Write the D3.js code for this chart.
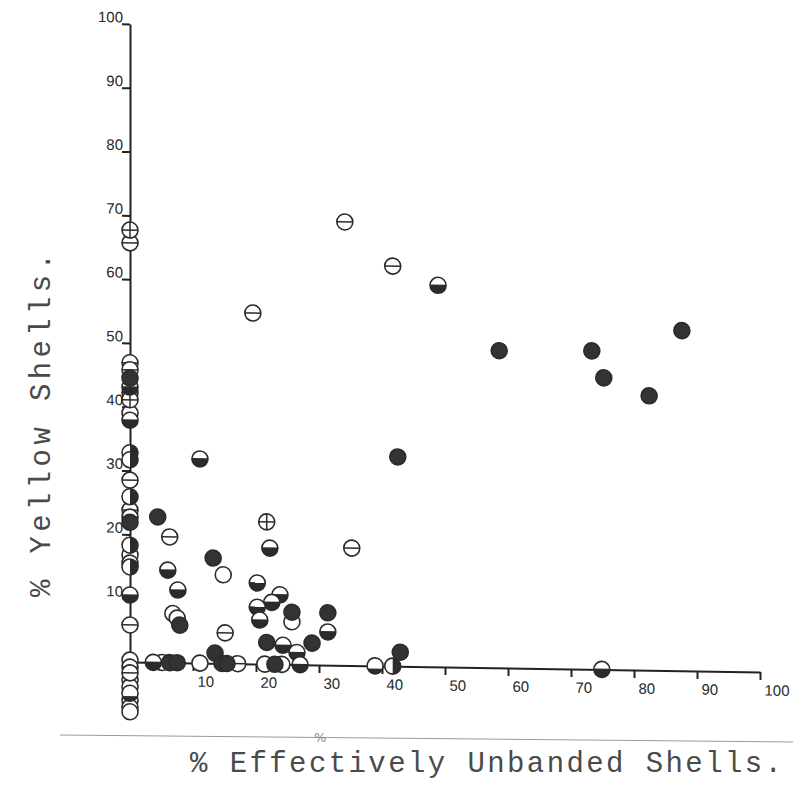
<!DOCTYPE html>
<html>
<head>
<meta charset="utf-8">
<script src="https://cdn.jsdelivr.net/npm/d3@7"></script>
<style>
  body { margin: 0; background: #fff; }
  .tick text { font-family: "Liberation Sans", sans-serif; font-size: 15px; fill: #2a2a2a; }
  .title { font-family: "Liberation Mono", "DejaVu Sans Mono", monospace; fill: #4a4a4a; }
</style>
</head>
<body>
<div id="chart"></div>
<script>
var width = 793;
var height = 795;

// tick labels
var xTicks = [10, 20, 30, 40, 50, 60, 70, 80, 90, 100];
var yTicks = [10, 20, 30, 40, 50, 60, 70, 80, 90, 100];

// points, one list per symbol: [% effectively unbanded, % yellow]
var openPts = [[6.8, 7.7], [7.5, 7.0], [14.8, 13.9], [25.7, 6.7], [5.1, 0], [11.1, 0], [21.4, 0], [24.1, 0],
  [0, 39.0], [0, 16.8], [0, 15.5], [0, 0.3], [0, -2.8], [0, -3.9], [0, -6.0], [0, -7.1], [0, -7.8]];
var filledPts = [[58.6, 49.7], [73.3, 49.9], [75.2, 45.7], [82.4, 43.0], [87.6, 53.3], [42.5, 32.8],
  [4.4, 22.8], [7.9, 5.9], [13.2, 16.5], [25.7, 8.2], [31.4, 8.2], [21.7, 3.4], [28.9, 3.4], [42.9, 2.2],
  [6.3, 0], [7.5, 0], [13.5, 1.6], [14.6, 0], [15.4, 0], [23.0, 0], [0, 44.5], [0, 21.9]];
var barPts = [[34.1, 69.5], [41.7, 62.7], [19.5, 55.0], [35.2, 18.4], [6.3, 19.7], [15.1, 4.8], [17.1, 0],
  [0, 65.7], [0, 46.9], [0, 45.8], [0, 28.5], [0, 23.8], [0, 5.8], [0, -0.8], [0, -1.7]];
var crossPts = [[21.7, 22.3], [0, 67.7], [0, 42.2], [0, 41.1]];
var halfPts = [[48.9, 59.8], [11.1, 32.0], [22.2, 18.2], [6.0, 14.5], [7.6, 11.4], [20.2, 12.7], [23.8, 10.9],
  [22.5, 9.7], [20.2, 8.9], [20.6, 6.9], [31.4, 5.2], [24.3, 3.0], [26.5, 1.9], [3.7, 0], [27.0, 0], [74.9, 0],
  [0, 43.1], [0, 37.9], [0, 22.7], [0, 10.5]];
var rightPts = [[41.7, 0], [0, 32.8], [0, 31.7], [0, 25.9], [0, 18.3], [0, 14.9]];
var quarterPts = [[38.9, 0], [0, -4.9]];

var svg = d3.select("#chart")
  .append("svg")
  .attr("width", width)
  .attr("height", height);

var x = d3.scaleLinear().domain([0, 100]).range([130, 760]);
var y = d3.scaleLinear().domain([0, 100]).range([662, 24]);

// the hand-drawn x axis sags slightly to the right
var plot = svg.append("g")
  .attr("transform", "translate(130,662) skewY(0.9) translate(-130,-662)");

var yAxis = plot.append("g")
  .attr("transform", "translate(130,0)")
  .call(d3.axisLeft(y).tickValues(yTicks).tickSize(8).tickSizeOuter(0));
yAxis.selectAll("text").attr("x", -7).attr("dy", "-2px").attr("text-anchor", "end");

var xAxis = plot.append("g")
  .attr("transform", "translate(0,662)")
  .call(d3.axisBottom(x).tickValues(xTicks).tickSize(8).tickSizeOuter(0));
xAxis.selectAll("text").attr("x", 4).attr("y", 13).attr("text-anchor", "start");

[yAxis, xAxis].forEach(function(a) {
  a.select(".domain").attr("stroke", "#222").attr("stroke-width", 2);
  a.selectAll(".tick line").attr("stroke", "#222").attr("stroke-width", 2);
});

var r = 8;
var ink = "#2b2b2b";
var qh = r * 0.35, qa = Math.sqrt(r * r - qh * qh);

function addMarks(pts, kind) {
  var g = plot.append("g").selectAll("g")
    .data(pts)
    .enter()
    .append("g")
      .attr("transform", function(d) { return "translate(" + x(d[0]) + "," + y(d[1]) + ")"; });
  g.append("circle").attr("r", r)
    .attr("fill", kind == "filled" ? "#333" : "#fff");
  if (kind == "half")
    g.append("path").attr("d", "M" + (-r) + ",0A" + r + "," + r + " 0 0 0 " + r + ",0Z").attr("fill", ink);
  if (kind == "right")
    g.append("path").attr("d", "M0," + (-r) + "A" + r + "," + r + " 0 0 1 0," + r + "Z").attr("fill", ink);
  if (kind == "quarter")
    g.append("path").attr("d", "M" + (-qa) + "," + qh + "A" + r + "," + r + " 0 0 0 " + qa + "," + qh + "Z").attr("fill", ink);
  if (kind == "bar" || kind == "cross" || kind == "half")
    g.append("line").attr("x1", -r).attr("x2", r).attr("stroke", ink).attr("stroke-width", 1.5);
  if (kind == "cross")
    g.append("line").attr("y1", -r).attr("y2", r).attr("stroke", ink).attr("stroke-width", 1.5);
  g.append("circle").attr("r", r)
    .attr("fill", "none")
    .attr("stroke", ink)
    .attr("stroke-width", 1.6);
}

addMarks(openPts, "open");
addMarks(barPts, "bar");
addMarks(crossPts, "cross");
addMarks(halfPts, "half");
addMarks(rightPts, "right");
addMarks(quarterPts, "quarter");
addMarks(filledPts, "filled");

// faint rule and pencil mark under the plot
svg.append("line")
  .attr("x1", 60).attr("y1", 735)
  .attr("x2", 793).attr("y2", 742)
  .attr("stroke", "#9a9a9a")
  .attr("stroke-width", 1);
svg.append("text")
  .attr("x", 314).attr("y", 742)
  .attr("font-family", "DejaVu Sans")
  .attr("font-size", 13)
  .attr("fill", "#888")
  .text("%");

var xLabel = svg.append("text")
  .attr("class", "title")
  .attr("x", 190)
  .attr("y", 772)
  .attr("font-size", 29)
  .attr("textLength", 592)
  .attr("lengthAdjust", "spacing")
  .text("% Effectively Unbanded Shells.");

var yLabel = svg.append("text")
  .attr("class", "title")
  .attr("transform", "translate(50,597) rotate(-90)")
  .attr("font-size", 29)
  .attr("textLength", 344)
  .attr("lengthAdjust", "spacing")
  .text("% Yellow Shells.");
</script>
</body>
</html>
